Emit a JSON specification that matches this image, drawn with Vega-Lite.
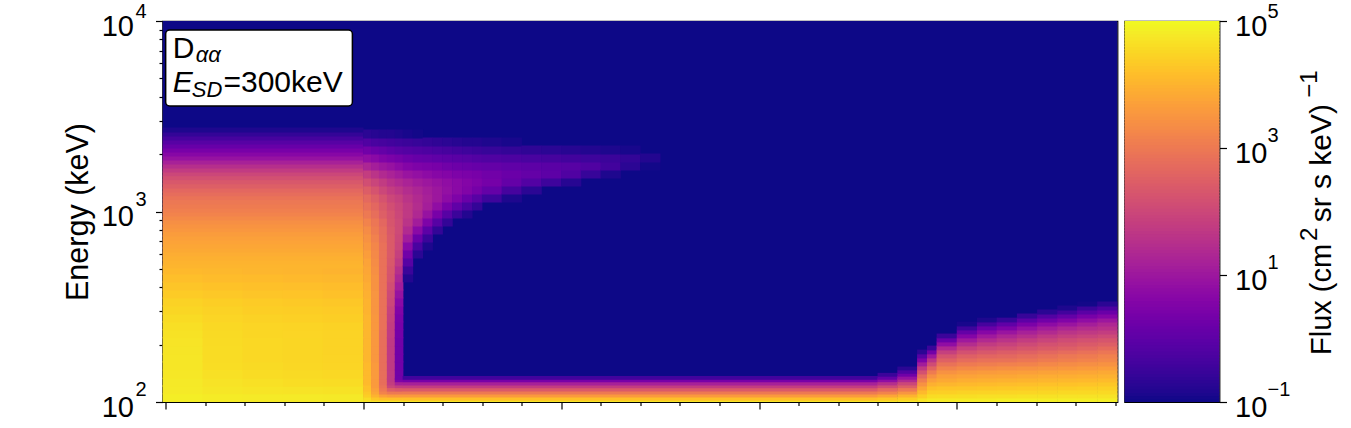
{"$schema":"https://vega.github.io/schema/vega-lite/v6.json","background":"white","padding":{"left":62.5,"top":1,"right":5,"bottom":5},"spacing":5,
"config":{"font":"Liberation Sans","view":{"stroke":"black","strokeWidth":1.2}},
"hconcat":[
{"width":955,"height":381,
"encoding":{
"x":{"field":"t","type":"quantitative","scale":{"domain":[-0.08,24.06],"nice":false,"zero":false},"axis":{"title":null,"labels":false,"grid":false,"domain":false,"values":[0,1,2,3,4,5,6,7,8,9,10,11,12,13,14,15,16,17,18,19,20,21,22,23,24],"tickColor":"black","tickWidth":1.2,"tickSize":{"condition":{"test":"datum.value%5===0","value":7},"value":3.5}}},
"y":{"field":"e","type":"quantitative","scale":{"type":"log","domain":[100,10000],"nice":false},"axis":{"title":"Energy (keV)","titleFontSize":30.5,"titleFontWeight":"normal","titleColor":"black","titlePadding":8,"grid":false,"domain":false,"values":[100,200,300,400,500,600,700,800,900,1000,2000,3000,4000,5000,6000,7000,8000,9000,10000],"labelExpr":"datum.value===100||datum.value===1000||datum.value===10000?'10':''","labelFontSize":29,"labelColor":"black","labelPadding":22,"labelOffset":5,"labelOverlap":false,"labelBound":false,"labelFlush":false,"tickColor":"black","tickWidth":1.2,"tickSize":{"condition":{"test":"datum.value===100||datum.value===1000||datum.value===10000","value":7},"value":3.5}}},
"color":{"field":"f","type":"quantitative","scale":{"scheme":"plasma","domain":[-1,5]},"legend":null}},
"layer":[
{"data":{"values":[{"t":-0.08,"t2":24.06,"e":100,"e2":10000,"f":-1}]},"mark":{"type":"rect","clip":true},"encoding":{"x2":{"field":"t2"},"y2":{"field":"e2"}}},
{"data":{"values":[
{"t":0.43,"e":105,"f":4.85},{"t":0.43,"e":116,"f":4.8},{"t":0.43,"e":127,"f":4.78},{"t":0.43,"e":140,"f":4.76},{"t":0.43,"e":155,"f":4.75},{"t":0.43,"e":170,"f":4.74},{"t":0.43,"e":187,"f":4.73},{"t":0.43,"e":207,"f":4.72},{"t":0.43,"e":228,"f":4.68},{"t":0.43,"e":251,"f":4.64},{"t":0.43,"e":276,"f":4.58},{"t":0.43,"e":304,"f":4.52},{"t":0.43,"e":335,"f":4.45},{"t":0.43,"e":369,"f":4.35},{"t":0.43,"e":406,"f":4.27},{"t":0.43,"e":448,"f":4.18},{"t":0.43,"e":493,"f":4.1},
{"t":1.45,"e":105,"f":4.82},{"t":1.45,"e":116,"f":4.75},{"t":1.45,"e":127,"f":4.7},{"t":1.45,"e":140,"f":4.65},{"t":1.45,"e":155,"f":4.62},{"t":1.45,"e":170,"f":4.6},{"t":1.45,"e":187,"f":4.6},{"t":1.45,"e":207,"f":4.59},{"t":1.45,"e":228,"f":4.57},{"t":1.45,"e":251,"f":4.55},{"t":1.45,"e":276,"f":4.5},{"t":1.45,"e":304,"f":4.45},{"t":1.45,"e":335,"f":4.4},{"t":1.45,"e":369,"f":4.31},{"t":1.45,"e":406,"f":4.23},{"t":1.45,"e":448,"f":4.14},{"t":1.45,"e":493,"f":4.07},
{"t":2.46,"e":105,"f":4.8},{"t":2.46,"e":116,"f":4.72},{"t":2.46,"e":127,"f":4.65},{"t":2.46,"e":140,"f":4.6},{"t":2.46,"e":155,"f":4.57},{"t":2.46,"e":170,"f":4.55},{"t":2.46,"e":187,"f":4.55},{"t":2.46,"e":207,"f":4.54},{"t":2.46,"e":228,"f":4.52},{"t":2.46,"e":251,"f":4.5},{"t":2.46,"e":276,"f":4.45},{"t":2.46,"e":304,"f":4.4},{"t":2.46,"e":335,"f":4.35},{"t":2.46,"e":369,"f":4.27},{"t":2.46,"e":406,"f":4.2},{"t":2.46,"e":448,"f":4.12},{"t":2.46,"e":493,"f":4.05},
{"t":3.48,"e":105,"f":4.8},{"t":3.48,"e":116,"f":4.7},{"t":3.48,"e":127,"f":4.62},{"t":3.48,"e":140,"f":4.57},{"t":3.48,"e":155,"f":4.53},{"t":3.48,"e":170,"f":4.51},{"t":3.48,"e":187,"f":4.52},{"t":3.48,"e":207,"f":4.51},{"t":3.48,"e":228,"f":4.5},{"t":3.48,"e":251,"f":4.48},{"t":3.48,"e":276,"f":4.43},{"t":3.48,"e":304,"f":4.38},{"t":3.48,"e":335,"f":4.33},{"t":3.48,"e":369,"f":4.25},{"t":3.48,"e":406,"f":4.18},{"t":3.48,"e":448,"f":4.1},{"t":3.48,"e":493,"f":4.03},
{"t":4.49,"e":105,"f":4.78},{"t":4.49,"e":116,"f":4.68},{"t":4.49,"e":127,"f":4.6},{"t":4.49,"e":140,"f":4.55},{"t":4.49,"e":155,"f":4.5},{"t":4.49,"e":170,"f":4.48},{"t":4.49,"e":187,"f":4.47},{"t":4.49,"e":207,"f":4.47},{"t":4.49,"e":228,"f":4.47},{"t":4.49,"e":251,"f":4.45},{"t":4.49,"e":276,"f":4.4},{"t":4.49,"e":304,"f":4.35},{"t":4.49,"e":335,"f":4.3},{"t":4.49,"e":369,"f":4.22},{"t":4.49,"e":406,"f":4.15},{"t":4.49,"e":448,"f":4.07},{"t":4.49,"e":493,"f":4.0}
]},"mark":{"type":"rect","width":41,"height":9,"clip":true}},
{"data":{"values":[
{"t":2.46,"e":517,"f":4.03},{"t":2.46,"e":543,"f":4.0},{"t":2.46,"e":570,"f":3.95},{"t":2.46,"e":598,"f":3.9},{"t":2.46,"e":628,"f":3.85},{"t":2.46,"e":659,"f":3.8},{"t":2.46,"e":692,"f":3.75},{"t":2.46,"e":726,"f":3.7},{"t":2.46,"e":762,"f":3.63},{"t":2.46,"e":800,"f":3.55},{"t":2.46,"e":839,"f":3.48},{"t":2.46,"e":881,"f":3.4},{"t":2.46,"e":924,"f":3.3},{"t":2.46,"e":970,"f":3.2},{"t":2.46,"e":1018,"f":3.12},{"t":2.46,"e":1069,"f":3.05},{"t":2.46,"e":1122,"f":2.98},{"t":2.46,"e":1178,"f":2.9},{"t":2.46,"e":1236,"f":2.78},{"t":2.46,"e":1297,"f":2.65},{"t":2.46,"e":1361,"f":2.5},{"t":2.46,"e":1429,"f":2.35},{"t":2.46,"e":1500,"f":2.18},{"t":2.46,"e":1574,"f":2.0},{"t":2.46,"e":1651,"f":1.75},{"t":2.46,"e":1733,"f":1.5},{"t":2.46,"e":1819,"f":1.2},{"t":2.46,"e":1909,"f":0.9},{"t":2.46,"e":2004,"f":0.65},{"t":2.46,"e":2103,"f":0.4},{"t":2.46,"e":2207,"f":0.15},{"t":2.46,"e":2316,"f":-0.1},{"t":2.46,"e":2431,"f":-0.35},{"t":2.46,"e":2551,"f":-0.6},{"t":2.46,"e":2678,"f":-0.85}
]},"mark":{"type":"rect","width":201.2,"height":4.8,"clip":true}},
{"data":{"values":[
{"t":5.1,"e":140,"f":4.1},{"t":5.1,"e":155,"f":4.1},{"t":5.1,"e":170,"f":4.05},{"t":5.1,"e":187,"f":4.05},{"t":5.1,"e":207,"f":4.05},{"t":5.1,"e":228,"f":4.05},{"t":5.1,"e":251,"f":4.05},{"t":5.1,"e":276,"f":4.05},{"t":5.1,"e":304,"f":4.0},{"t":5.1,"e":335,"f":4.0},{"t":5.1,"e":369,"f":3.95},{"t":5.1,"e":406,"f":3.9},{"t":5.1,"e":448,"f":3.85},{"t":5.1,"e":493,"f":3.8},{"t":5.1,"e":543,"f":3.75},{"t":5.1,"e":598,"f":3.65},{"t":5.1,"e":659,"f":3.55},{"t":5.1,"e":726,"f":3.45},{"t":5.1,"e":800,"f":3.35},{"t":5.1,"e":881,"f":3.2},{"t":5.1,"e":971,"f":3.0},{"t":5.1,"e":1069,"f":2.85},{"t":5.1,"e":1178,"f":2.7},{"t":5.1,"e":1297,"f":2.45},{"t":5.1,"e":1429,"f":2.15},{"t":5.1,"e":1574,"f":1.8},{"t":5.1,"e":1734,"f":1.3},{"t":5.1,"e":1910,"f":0.8},{"t":5.1,"e":2104,"f":0.3},{"t":5.1,"e":2317,"f":-0.2},{"t":5.1,"e":2553,"f":-0.7},
{"t":5.3,"e":140,"f":3.6},{"t":5.3,"e":155,"f":3.6},{"t":5.3,"e":170,"f":3.55},{"t":5.3,"e":187,"f":3.55},{"t":5.3,"e":207,"f":3.55},{"t":5.3,"e":228,"f":3.55},{"t":5.3,"e":251,"f":3.55},{"t":5.3,"e":276,"f":3.55},{"t":5.3,"e":304,"f":3.5},{"t":5.3,"e":335,"f":3.5},{"t":5.3,"e":369,"f":3.5},{"t":5.3,"e":406,"f":3.45},{"t":5.3,"e":448,"f":3.45},{"t":5.3,"e":493,"f":3.4},{"t":5.3,"e":543,"f":3.35},{"t":5.3,"e":598,"f":3.3},{"t":5.3,"e":659,"f":3.25},{"t":5.3,"e":726,"f":3.15},{"t":5.3,"e":800,"f":3.05},{"t":5.3,"e":881,"f":2.95},{"t":5.3,"e":971,"f":2.8},{"t":5.3,"e":1069,"f":2.65},{"t":5.3,"e":1178,"f":2.5},{"t":5.3,"e":1297,"f":2.25},{"t":5.3,"e":1429,"f":1.95},{"t":5.3,"e":1574,"f":1.6},{"t":5.3,"e":1734,"f":1.15},{"t":5.3,"e":1910,"f":0.7},{"t":5.3,"e":2104,"f":0.2},{"t":5.3,"e":2317,"f":-0.3},{"t":5.3,"e":2553,"f":-0.75},
{"t":5.5,"e":140,"f":2.8},{"t":5.5,"e":155,"f":2.8},{"t":5.5,"e":170,"f":2.8},{"t":5.5,"e":187,"f":2.8},{"t":5.5,"e":207,"f":2.8},{"t":5.5,"e":228,"f":2.8},{"t":5.5,"e":251,"f":2.85},{"t":5.5,"e":276,"f":2.85},{"t":5.5,"e":304,"f":2.85},{"t":5.5,"e":335,"f":2.85},{"t":5.5,"e":369,"f":2.85},{"t":5.5,"e":406,"f":2.85},{"t":5.5,"e":448,"f":2.85},{"t":5.5,"e":493,"f":2.85},{"t":5.5,"e":543,"f":2.85},{"t":5.5,"e":598,"f":2.85},{"t":5.5,"e":659,"f":2.85},{"t":5.5,"e":726,"f":2.8},{"t":5.5,"e":800,"f":2.75},{"t":5.5,"e":881,"f":2.65},{"t":5.5,"e":971,"f":2.5},{"t":5.5,"e":1069,"f":2.4},{"t":5.5,"e":1178,"f":2.25},{"t":5.5,"e":1297,"f":2.0},{"t":5.5,"e":1429,"f":1.75},{"t":5.5,"e":1574,"f":1.4},{"t":5.5,"e":1734,"f":1.0},{"t":5.5,"e":1910,"f":0.55},{"t":5.5,"e":2104,"f":0.1},{"t":5.5,"e":2317,"f":-0.35},{"t":5.5,"e":2553,"f":-0.8},
{"t":5.7,"e":140,"f":1.7},{"t":5.7,"e":155,"f":1.7},{"t":5.7,"e":170,"f":1.7},{"t":5.7,"e":187,"f":1.7},{"t":5.7,"e":207,"f":1.7},{"t":5.7,"e":228,"f":1.75},{"t":5.7,"e":251,"f":1.8},{"t":5.7,"e":276,"f":1.85},{"t":5.7,"e":304,"f":1.9},{"t":5.7,"e":335,"f":2.0},{"t":5.7,"e":369,"f":2.05},{"t":5.7,"e":406,"f":2.15},{"t":5.7,"e":448,"f":2.25},{"t":5.7,"e":493,"f":2.3},{"t":5.7,"e":543,"f":2.35},{"t":5.7,"e":598,"f":2.4},{"t":5.7,"e":659,"f":2.4},{"t":5.7,"e":726,"f":2.4},{"t":5.7,"e":800,"f":2.35},{"t":5.7,"e":881,"f":2.3},{"t":5.7,"e":971,"f":2.25},{"t":5.7,"e":1069,"f":2.15},{"t":5.7,"e":1178,"f":2.0},{"t":5.7,"e":1297,"f":1.8},{"t":5.7,"e":1429,"f":1.55},{"t":5.7,"e":1574,"f":1.25},{"t":5.7,"e":1734,"f":0.9},{"t":5.7,"e":1910,"f":0.45},{"t":5.7,"e":2104,"f":0},{"t":5.7,"e":2317,"f":-0.4},{"t":5.7,"e":2553,"f":-0.8},
{"t":5.9,"e":140,"f":0.3},{"t":5.9,"e":155,"f":0.3},{"t":5.9,"e":170,"f":0.3},{"t":5.9,"e":187,"f":0.3},{"t":5.9,"e":207,"f":0.3},{"t":5.9,"e":228,"f":0.35},{"t":5.9,"e":251,"f":0.4},{"t":5.9,"e":276,"f":0.45},{"t":5.9,"e":304,"f":0.55},{"t":5.9,"e":335,"f":0.7},{"t":5.9,"e":369,"f":0.9},{"t":5.9,"e":406,"f":1.1},{"t":5.9,"e":448,"f":1.3},{"t":5.9,"e":493,"f":1.5},{"t":5.9,"e":543,"f":1.7},{"t":5.9,"e":598,"f":1.85},{"t":5.9,"e":659,"f":1.95},{"t":5.9,"e":726,"f":2.0},{"t":5.9,"e":800,"f":2.05},{"t":5.9,"e":881,"f":2.05},{"t":5.9,"e":971,"f":2.0},{"t":5.9,"e":1069,"f":1.95},{"t":5.9,"e":1178,"f":1.85},{"t":5.9,"e":1297,"f":1.65},{"t":5.9,"e":1429,"f":1.4},{"t":5.9,"e":1574,"f":1.1},{"t":5.9,"e":1734,"f":0.75},{"t":5.9,"e":1910,"f":0.35},{"t":5.9,"e":2104,"f":-0.1},{"t":5.9,"e":2317,"f":-0.45},{"t":5.9,"e":2553,"f":-0.85}
]},"mark":{"type":"rect","width":8.6,"height":9,"clip":true}},
{"data":{"values":[
{"t":5.1,"e":100.6,"f":4.75},{"t":5.1,"e":104,"f":4.6},{"t":5.1,"e":108,"f":4.4},{"t":5.1,"e":112,"f":4.3},{"t":5.1,"e":116,"f":4.2},{"t":5.1,"e":121,"f":4.2},{"t":5.1,"e":125,"f":4.1},{"t":5.1,"e":130,"f":4.1},{"t":5.1,"e":134,"f":4.1},
{"t":5.3,"e":100.6,"f":4.7},{"t":5.3,"e":104,"f":4.3},{"t":5.3,"e":108,"f":4.0},{"t":5.3,"e":112,"f":3.8},{"t":5.3,"e":116,"f":3.7},{"t":5.3,"e":121,"f":3.6},{"t":5.3,"e":125,"f":3.6},{"t":5.3,"e":130,"f":3.6},{"t":5.3,"e":134,"f":3.6},
{"t":5.5,"e":100.6,"f":4.7},{"t":5.5,"e":104,"f":4.2},{"t":5.5,"e":108,"f":3.7},{"t":5.5,"e":112,"f":3.2},{"t":5.5,"e":116,"f":3.0},{"t":5.5,"e":121,"f":2.9},{"t":5.5,"e":125,"f":2.8},{"t":5.5,"e":130,"f":2.8},{"t":5.5,"e":134,"f":2.8},
{"t":5.7,"e":100.6,"f":4.7},{"t":5.7,"e":104,"f":4.2},{"t":5.7,"e":108,"f":3.6},{"t":5.7,"e":112,"f":3.0},{"t":5.7,"e":116,"f":2.5},{"t":5.7,"e":121,"f":2.0},{"t":5.7,"e":125,"f":1.8},{"t":5.7,"e":130,"f":1.7},{"t":5.7,"e":134,"f":1.7},
{"t":5.9,"e":100.6,"f":4.7},{"t":5.9,"e":104,"f":4.2},{"t":5.9,"e":108,"f":3.6},{"t":5.9,"e":112,"f":3.0},{"t":5.9,"e":116,"f":2.4},{"t":5.9,"e":121,"f":1.8},{"t":5.9,"e":125,"f":1.2},{"t":5.9,"e":130,"f":0.5},{"t":5.9,"e":134,"f":0.3}
]},"mark":{"type":"rect","width":8.6,"height":3.8,"clip":true}},
{"data":{"values":[
{"t":12,"e":100.6,"f":4.7},{"t":12,"e":104,"f":4.2},{"t":12,"e":108,"f":3.6},{"t":12,"e":112,"f":3.0},{"t":12,"e":116,"f":2.4},{"t":12,"e":121,"f":1.8},{"t":12,"e":125,"f":1.2},{"t":12,"e":130,"f":0.4},{"t":12,"e":134,"f":-0.4}
]},"mark":{"type":"rect","width":475.5,"height":3.8,"clip":true}},
{"data":{"values":[
{"t":18.25,"e":100.6,"f":4.7},{"t":18.25,"e":104,"f":4.3},{"t":18.25,"e":108,"f":3.8},{"t":18.25,"e":112,"f":3.2},{"t":18.25,"e":116,"f":2.7},{"t":18.25,"e":121,"f":2.1},{"t":18.25,"e":125,"f":1.5},{"t":18.25,"e":130,"f":0.8},{"t":18.25,"e":134,"f":0.1},{"t":18.25,"e":139,"f":-0.5},
{"t":18.75,"e":100.6,"f":4.75},{"t":18.75,"e":104,"f":4.4},{"t":18.75,"e":108,"f":4.0},{"t":18.75,"e":112,"f":3.5},{"t":18.75,"e":116,"f":3.0},{"t":18.75,"e":121,"f":2.5},{"t":18.75,"e":125,"f":2.0},{"t":18.75,"e":130,"f":1.4},{"t":18.75,"e":134,"f":0.9},{"t":18.75,"e":139,"f":0.3},{"t":18.75,"e":144,"f":-0.2},{"t":18.75,"e":150,"f":-0.7}
]},"mark":{"type":"rect","width":20.2,"height":3.8,"clip":true}},
{"data":{"values":[
{"t":6.125,"e":448,"f":-0.8},{"t":6.125,"e":493,"f":-0.5},{"t":6.125,"e":543,"f":-0.1},{"t":6.125,"e":598,"f":0.3},{"t":6.125,"e":659,"f":0.7},{"t":6.125,"e":726,"f":1.1},{"t":6.125,"e":800,"f":1.4},{"t":6.125,"e":881,"f":1.6},{"t":6.125,"e":971,"f":1.7},{"t":6.125,"e":1069,"f":1.7},{"t":6.125,"e":1178,"f":1.6},{"t":6.125,"e":1297,"f":1.45},{"t":6.125,"e":1429,"f":1.25},{"t":6.125,"e":1574,"f":0.95},{"t":6.125,"e":1734,"f":0.6},{"t":6.125,"e":1910,"f":0.25},{"t":6.125,"e":2104,"f":-0.15},{"t":6.125,"e":2317,"f":-0.5},{"t":6.125,"e":2553,"f":-0.9},
{"t":6.375,"e":598,"f":-0.7},{"t":6.375,"e":659,"f":-0.3},{"t":6.375,"e":726,"f":0.2},{"t":6.375,"e":800,"f":0.7},{"t":6.375,"e":881,"f":1.1},{"t":6.375,"e":971,"f":1.35},{"t":6.375,"e":1069,"f":1.45},{"t":6.375,"e":1178,"f":1.4},{"t":6.375,"e":1297,"f":1.3},{"t":6.375,"e":1429,"f":1.1},{"t":6.375,"e":1574,"f":0.85},{"t":6.375,"e":1734,"f":0.5},{"t":6.375,"e":1910,"f":0.15},{"t":6.375,"e":2104,"f":-0.2},{"t":6.375,"e":2317,"f":-0.55},{"t":6.375,"e":2553,"f":-0.95},
{"t":6.625,"e":659,"f":-0.85},{"t":6.625,"e":726,"f":-0.5},{"t":6.625,"e":800,"f":0},{"t":6.625,"e":881,"f":0.5},{"t":6.625,"e":971,"f":0.9},{"t":6.625,"e":1069,"f":1.15},{"t":6.625,"e":1178,"f":1.2},{"t":6.625,"e":1297,"f":1.15},{"t":6.625,"e":1429,"f":1.0},{"t":6.625,"e":1574,"f":0.75},{"t":6.625,"e":1734,"f":0.45},{"t":6.625,"e":1910,"f":0.1},{"t":6.625,"e":2104,"f":-0.25},{"t":6.625,"e":2317,"f":-0.6},
{"t":6.875,"e":800,"f":-0.6},{"t":6.875,"e":881,"f":-0.1},{"t":6.875,"e":971,"f":0.4},{"t":6.875,"e":1069,"f":0.8},{"t":6.875,"e":1178,"f":1.0},{"t":6.875,"e":1297,"f":1.0},{"t":6.875,"e":1429,"f":0.9},{"t":6.875,"e":1574,"f":0.65},{"t":6.875,"e":1734,"f":0.4},{"t":6.875,"e":1910,"f":0.05},{"t":6.875,"e":2104,"f":-0.3},{"t":6.875,"e":2317,"f":-0.65},
{"t":7.125,"e":881,"f":-0.6},{"t":7.125,"e":971,"f":-0.1},{"t":7.125,"e":1069,"f":0.4},{"t":7.125,"e":1178,"f":0.75},{"t":7.125,"e":1297,"f":0.85},{"t":7.125,"e":1429,"f":0.8},{"t":7.125,"e":1574,"f":0.6},{"t":7.125,"e":1734,"f":0.3},{"t":7.125,"e":1910,"f":0},{"t":7.125,"e":2104,"f":-0.35},{"t":7.125,"e":2317,"f":-0.7},
{"t":7.375,"e":971,"f":-0.5},{"t":7.375,"e":1069,"f":0.05},{"t":7.375,"e":1178,"f":0.5},{"t":7.375,"e":1297,"f":0.7},{"t":7.375,"e":1429,"f":0.7},{"t":7.375,"e":1574,"f":0.5},{"t":7.375,"e":1734,"f":0.25},{"t":7.375,"e":1910,"f":-0.05},{"t":7.375,"e":2104,"f":-0.4},{"t":7.375,"e":2317,"f":-0.75},
{"t":7.625,"e":971,"f":-0.8},{"t":7.625,"e":1069,"f":-0.3},{"t":7.625,"e":1178,"f":0.2},{"t":7.625,"e":1297,"f":0.55},{"t":7.625,"e":1429,"f":0.6},{"t":7.625,"e":1574,"f":0.45},{"t":7.625,"e":1734,"f":0.2},{"t":7.625,"e":1910,"f":-0.1},{"t":7.625,"e":2104,"f":-0.45},{"t":7.625,"e":2317,"f":-0.8},
{"t":7.875,"e":1069,"f":-0.6},{"t":7.875,"e":1178,"f":-0.1},{"t":7.875,"e":1297,"f":0.35},{"t":7.875,"e":1429,"f":0.5},{"t":7.875,"e":1574,"f":0.4},{"t":7.875,"e":1734,"f":0.15},{"t":7.875,"e":1910,"f":-0.15},{"t":7.875,"e":2104,"f":-0.5},{"t":7.875,"e":2317,"f":-0.8}
]},"mark":{"type":"rect","width":10.4,"height":9,"clip":true}},
{"data":{"values":[
{"t":8.25,"e":1178,"f":-0.45},{"t":8.25,"e":1297,"f":0.1},{"t":8.25,"e":1429,"f":0.35},{"t":8.25,"e":1574,"f":0.3},{"t":8.25,"e":1734,"f":0.1},{"t":8.25,"e":1910,"f":-0.2},{"t":8.25,"e":2104,"f":-0.55},{"t":8.25,"e":2317,"f":-0.85},
{"t":8.75,"e":1178,"f":-0.85},{"t":8.75,"e":1297,"f":-0.35},{"t":8.75,"e":1429,"f":0.1},{"t":8.75,"e":1574,"f":0.2},{"t":8.75,"e":1734,"f":0.05},{"t":8.75,"e":1910,"f":-0.25},{"t":8.75,"e":2104,"f":-0.6},{"t":8.75,"e":2317,"f":-0.9},
{"t":9.25,"e":1297,"f":-0.7},{"t":9.25,"e":1429,"f":-0.15},{"t":9.25,"e":1574,"f":0.1},{"t":9.25,"e":1734,"f":0},{"t":9.25,"e":1910,"f":-0.3},{"t":9.25,"e":2104,"f":-0.65},
{"t":9.75,"e":1429,"f":-0.45},{"t":9.75,"e":1574,"f":0},{"t":9.75,"e":1734,"f":-0.05},{"t":9.75,"e":1910,"f":-0.35},{"t":9.75,"e":2104,"f":-0.7},
{"t":10.25,"e":1429,"f":-0.75},{"t":10.25,"e":1574,"f":-0.2},{"t":10.25,"e":1734,"f":-0.1},{"t":10.25,"e":1910,"f":-0.4},{"t":10.25,"e":2104,"f":-0.75},
{"t":10.75,"e":1574,"f":-0.55},{"t":10.75,"e":1734,"f":-0.2},{"t":10.75,"e":1910,"f":-0.45},{"t":10.75,"e":2104,"f":-0.8},
{"t":11.25,"e":1574,"f":-0.85},{"t":11.25,"e":1734,"f":-0.4},{"t":11.25,"e":1910,"f":-0.5},{"t":11.25,"e":2104,"f":-0.85},
{"t":11.75,"e":1734,"f":-0.7},{"t":11.75,"e":1910,"f":-0.6},{"t":11.75,"e":2104,"f":-0.9},
{"t":12.25,"e":1734,"f":-0.95},{"t":12.25,"e":1910,"f":-0.8}
]},"mark":{"type":"rect","width":20.3,"height":9,"clip":true}},
{"data":{"values":[
{"t":19.125,"e":102.4,"f":4.7},{"t":19.125,"e":107.5,"f":4.4},{"t":19.125,"e":112.8,"f":4.1},{"t":19.125,"e":118.4,"f":3.8},{"t":19.125,"e":124.3,"f":3.45},{"t":19.125,"e":130.4,"f":3.1},{"t":19.125,"e":136.9,"f":2.7},{"t":19.125,"e":143.7,"f":2.2},{"t":19.125,"e":150.8,"f":1.7},{"t":19.125,"e":158.3,"f":1.1},{"t":19.125,"e":166.2,"f":0.5},{"t":19.125,"e":174.4,"f":-0.1},{"t":19.125,"e":183.1,"f":-0.7},
{"t":19.375,"e":102.4,"f":4.8},{"t":19.375,"e":107.5,"f":4.6},{"t":19.375,"e":112.8,"f":4.4},{"t":19.375,"e":118.4,"f":4.2},{"t":19.375,"e":124.3,"f":3.95},{"t":19.375,"e":130.4,"f":3.7},{"t":19.375,"e":136.9,"f":3.4},{"t":19.375,"e":143.7,"f":3.05},{"t":19.375,"e":150.8,"f":2.6},{"t":19.375,"e":158.3,"f":2.1},{"t":19.375,"e":166.2,"f":1.6},{"t":19.375,"e":174.4,"f":1.0},{"t":19.375,"e":183.1,"f":0.3},{"t":19.375,"e":192.1,"f":-0.5}
]},"mark":{"type":"rect","width":10.4,"height":4.8,"clip":true}},
{"data":{"values":[
{"t":19.75,"e":102.4,"f":4.8},{"t":19.75,"e":107.5,"f":4.62},{"t":19.75,"e":112.8,"f":4.42},{"t":19.75,"e":118.4,"f":4.25},{"t":19.75,"e":124.3,"f":4.05},{"t":19.75,"e":130.4,"f":3.85},{"t":19.75,"e":136.9,"f":3.68},{"t":19.75,"e":143.7,"f":3.45},{"t":19.75,"e":150.8,"f":3.18},{"t":19.75,"e":158.3,"f":2.88},{"t":19.75,"e":166.2,"f":2.55},{"t":19.75,"e":174.4,"f":2.25},{"t":19.75,"e":183.1,"f":1.85},{"t":19.75,"e":192.1,"f":1.35},{"t":19.75,"e":201.6,"f":0.8},{"t":19.75,"e":211.6,"f":0.2},{"t":19.75,"e":222.2,"f":-0.5},
{"t":20.26,"e":102.4,"f":4.82},{"t":20.26,"e":107.5,"f":4.63},{"t":20.26,"e":112.8,"f":4.45},{"t":20.26,"e":118.4,"f":4.27},{"t":20.26,"e":124.3,"f":4.1},{"t":20.26,"e":130.4,"f":3.92},{"t":20.26,"e":136.9,"f":3.75},{"t":20.26,"e":143.7,"f":3.57},{"t":20.26,"e":150.8,"f":3.3},{"t":20.26,"e":158.3,"f":3.02},{"t":20.26,"e":166.2,"f":2.75},{"t":20.26,"e":174.4,"f":2.52},{"t":20.26,"e":183.1,"f":2.2},{"t":20.26,"e":192.1,"f":1.85},{"t":20.26,"e":201.6,"f":1.45},{"t":20.26,"e":211.6,"f":1.05},{"t":20.26,"e":222.2,"f":0.6},{"t":20.26,"e":233.1,"f":0.1},{"t":20.26,"e":244.6,"f":-0.45},{"t":20.26,"e":256.7,"f":-0.9},
{"t":20.77,"e":102.4,"f":4.82},{"t":20.77,"e":107.5,"f":4.65},{"t":20.77,"e":112.8,"f":4.47},{"t":20.77,"e":118.4,"f":4.3},{"t":20.77,"e":124.3,"f":4.12},{"t":20.77,"e":130.4,"f":3.95},{"t":20.77,"e":136.9,"f":3.8},{"t":20.77,"e":143.7,"f":3.62},{"t":20.77,"e":150.8,"f":3.35},{"t":20.77,"e":158.3,"f":3.1},{"t":20.77,"e":166.2,"f":2.85},{"t":20.77,"e":174.4,"f":2.62},{"t":20.77,"e":183.1,"f":2.35},{"t":20.77,"e":192.1,"f":2.05},{"t":20.77,"e":201.6,"f":1.75},{"t":20.77,"e":211.6,"f":1.4},{"t":20.77,"e":222.2,"f":1.05},{"t":20.77,"e":233.1,"f":0.65},{"t":20.77,"e":244.6,"f":0.2},{"t":20.77,"e":256.7,"f":-0.35},{"t":20.77,"e":269.4,"f":-0.85},
{"t":21.27,"e":102.4,"f":4.85},{"t":21.27,"e":107.5,"f":4.66},{"t":21.27,"e":112.8,"f":4.48},{"t":21.27,"e":118.4,"f":4.32},{"t":21.27,"e":124.3,"f":4.15},{"t":21.27,"e":130.4,"f":3.98},{"t":21.27,"e":136.9,"f":3.82},{"t":21.27,"e":143.7,"f":3.65},{"t":21.27,"e":150.8,"f":3.4},{"t":21.27,"e":158.3,"f":3.15},{"t":21.27,"e":166.2,"f":2.88},{"t":21.27,"e":174.4,"f":2.68},{"t":21.27,"e":183.1,"f":2.45},{"t":21.27,"e":192.1,"f":2.15},{"t":21.27,"e":201.6,"f":1.9},{"t":21.27,"e":211.6,"f":1.6},{"t":21.27,"e":222.2,"f":1.3},{"t":21.27,"e":233.1,"f":0.95},{"t":21.27,"e":244.6,"f":0.5},{"t":21.27,"e":256.7,"f":0.05},{"t":21.27,"e":269.4,"f":-0.55},
{"t":21.78,"e":102.4,"f":4.85},{"t":21.78,"e":107.5,"f":4.68},{"t":21.78,"e":112.8,"f":4.5},{"t":21.78,"e":118.4,"f":4.34},{"t":21.78,"e":124.3,"f":4.18},{"t":21.78,"e":130.4,"f":4.02},{"t":21.78,"e":136.9,"f":3.86},{"t":21.78,"e":143.7,"f":3.68},{"t":21.78,"e":150.8,"f":3.45},{"t":21.78,"e":158.3,"f":3.2},{"t":21.78,"e":166.2,"f":2.95},{"t":21.78,"e":174.4,"f":2.78},{"t":21.78,"e":183.1,"f":2.55},{"t":21.78,"e":192.1,"f":2.3},{"t":21.78,"e":201.6,"f":2.05},{"t":21.78,"e":211.6,"f":1.8},{"t":21.78,"e":222.2,"f":1.5},{"t":21.78,"e":233.1,"f":1.2},{"t":21.78,"e":244.6,"f":0.85},{"t":21.78,"e":256.7,"f":0.45},{"t":21.78,"e":269.4,"f":0},{"t":21.78,"e":282.8,"f":-0.55},
{"t":22.29,"e":102.4,"f":4.85},{"t":22.29,"e":107.5,"f":4.68},{"t":22.29,"e":112.8,"f":4.52},{"t":22.29,"e":118.4,"f":4.37},{"t":22.29,"e":124.3,"f":4.21},{"t":22.29,"e":130.4,"f":4.05},{"t":22.29,"e":136.9,"f":3.9},{"t":22.29,"e":143.7,"f":3.73},{"t":22.29,"e":150.8,"f":3.5},{"t":22.29,"e":158.3,"f":3.28},{"t":22.29,"e":166.2,"f":3.05},{"t":22.29,"e":174.4,"f":2.88},{"t":22.29,"e":183.1,"f":2.65},{"t":22.29,"e":192.1,"f":2.4},{"t":22.29,"e":201.6,"f":2.2},{"t":22.29,"e":211.6,"f":1.95},{"t":22.29,"e":222.2,"f":1.7},{"t":22.29,"e":233.1,"f":1.4},{"t":22.29,"e":244.6,"f":1.1},{"t":22.29,"e":256.7,"f":0.75},{"t":22.29,"e":269.4,"f":0.3},{"t":22.29,"e":282.8,"f":-0.15},{"t":22.29,"e":296.7,"f":-0.7},
{"t":22.8,"e":102.4,"f":4.85},{"t":22.8,"e":107.5,"f":4.7},{"t":22.8,"e":112.8,"f":4.54},{"t":22.8,"e":118.4,"f":4.39},{"t":22.8,"e":124.3,"f":4.23},{"t":22.8,"e":130.4,"f":4.07},{"t":22.8,"e":136.9,"f":3.92},{"t":22.8,"e":143.7,"f":3.77},{"t":22.8,"e":150.8,"f":3.55},{"t":22.8,"e":158.3,"f":3.35},{"t":22.8,"e":166.2,"f":3.13},{"t":22.8,"e":174.4,"f":2.98},{"t":22.8,"e":183.1,"f":2.75},{"t":22.8,"e":192.1,"f":2.5},{"t":22.8,"e":201.6,"f":2.3},{"t":22.8,"e":211.6,"f":2.1},{"t":22.8,"e":222.2,"f":1.85},{"t":22.8,"e":233.1,"f":1.6},{"t":22.8,"e":244.6,"f":1.3},{"t":22.8,"e":256.7,"f":0.95},{"t":22.8,"e":269.4,"f":0.55},{"t":22.8,"e":282.8,"f":0.1},{"t":22.8,"e":296.7,"f":-0.4},{"t":22.8,"e":311.4,"f":-0.85},
{"t":23.3,"e":102.4,"f":4.85},{"t":23.3,"e":107.5,"f":4.7},{"t":23.3,"e":112.8,"f":4.55},{"t":23.3,"e":118.4,"f":4.41},{"t":23.3,"e":124.3,"f":4.25},{"t":23.3,"e":130.4,"f":4.1},{"t":23.3,"e":136.9,"f":3.95},{"t":23.3,"e":143.7,"f":3.8},{"t":23.3,"e":150.8,"f":3.6},{"t":23.3,"e":158.3,"f":3.4},{"t":23.3,"e":166.2,"f":3.2},{"t":23.3,"e":174.4,"f":3.05},{"t":23.3,"e":183.1,"f":2.85},{"t":23.3,"e":192.1,"f":2.6},{"t":23.3,"e":201.6,"f":2.4},{"t":23.3,"e":211.6,"f":2.2},{"t":23.3,"e":222.2,"f":1.95},{"t":23.3,"e":233.1,"f":1.7},{"t":23.3,"e":244.6,"f":1.45},{"t":23.3,"e":256.7,"f":1.15},{"t":23.3,"e":269.4,"f":0.8},{"t":23.3,"e":282.8,"f":0.4},{"t":23.3,"e":296.7,"f":-0.05},{"t":23.3,"e":311.4,"f":-0.5},{"t":23.3,"e":326.9,"f":-0.95},
{"t":23.81,"e":102.4,"f":4.85},{"t":23.81,"e":107.5,"f":4.7},{"t":23.81,"e":112.8,"f":4.56},{"t":23.81,"e":118.4,"f":4.43},{"t":23.81,"e":124.3,"f":4.28},{"t":23.81,"e":130.4,"f":4.13},{"t":23.81,"e":136.9,"f":3.98},{"t":23.81,"e":143.7,"f":3.85},{"t":23.81,"e":150.8,"f":3.65},{"t":23.81,"e":158.3,"f":3.45},{"t":23.81,"e":166.2,"f":3.27},{"t":23.81,"e":174.4,"f":3.15},{"t":23.81,"e":183.1,"f":2.95},{"t":23.81,"e":192.1,"f":2.73},{"t":23.81,"e":201.6,"f":2.5},{"t":23.81,"e":211.6,"f":2.3},{"t":23.81,"e":222.2,"f":2.05},{"t":23.81,"e":233.1,"f":1.8},{"t":23.81,"e":244.6,"f":1.55},{"t":23.81,"e":256.7,"f":1.33},{"t":23.81,"e":269.4,"f":1.0},{"t":23.81,"e":282.8,"f":0.6},{"t":23.81,"e":296.7,"f":0.2},{"t":23.81,"e":311.4,"f":-0.25},{"t":23.81,"e":326.9,"f":-0.7}
]},"mark":{"type":"rect","width":20.8,"height":4.8,"clip":true}},
{"data":{"values":[{"t":0,"t2":4.72,"e":3580,"e2":8970}]},"mark":{"type":"rect","fill":"white","stroke":"black","strokeWidth":1.5,"cornerRadius":4},"encoding":{"x2":{"field":"t2"},"y2":{"field":"e2"},"color":{"value":"white"}}},
{"data":{"values":[{"t":0.18,"e":6400,"s":"D"},{"t":1.46,"e":4236,"s":"=300keV"}]},"mark":{"type":"text","align":"left","baseline":"alphabetic","fontSize":30},"encoding":{"text":{"field":"s"},"color":{"value":"black"}}},
{"data":{"values":[{"t":0.18,"e":4236,"s":"E"}]},"mark":{"type":"text","align":"left","baseline":"alphabetic","fontSize":30,"fontStyle":"italic"},"encoding":{"text":{"field":"s"},"color":{"value":"black"}}},
{"data":{"values":[{"t":0.76,"e":6100,"s":"αα"},{"t":0.66,"e":3990,"s":"SD"}]},"mark":{"type":"text","align":"left","baseline":"alphabetic","fontSize":22,"fontStyle":"italic"},"encoding":{"text":{"field":"s"},"color":{"value":"black"}}},
{"data":{"values":[{"t":-0.76,"e":100,"s":"2"},{"t":-0.76,"e":1000,"s":"3"},{"t":-0.76,"e":9644,"s":"4"}]},"mark":{"type":"text","align":"left","baseline":"alphabetic","fontSize":20,"dy":-6},"encoding":{"text":{"field":"s"},"color":{"value":"black"}}}
]},
{"width":95,"height":381,
"encoding":{
"x":{"field":"x","type":"quantitative","scale":{"domain":[0,1],"nice":false,"zero":false},"axis":null},
"y":{"field":"f","type":"quantitative","scale":{"domain":[-1,5],"nice":false,"zero":false},"axis":{"orient":"right","title":null,"grid":false,"domain":false,"values":[-1,1,3,5],"labelExpr":"'10'","labelFontSize":29,"labelColor":"black","labelPadding":8,"labelOffset":5,"labelOverlap":false,"labelBound":false,"labelFlush":false,"tickColor":"black","tickWidth":1.2,"tickSize":7}}},
"layer":[
{"data":{"values":[{"x":0.5,"f":-0.975},{"x":0.5,"f":-0.925},{"x":0.5,"f":-0.875},{"x":0.5,"f":-0.825},{"x":0.5,"f":-0.775},{"x":0.5,"f":-0.725},{"x":0.5,"f":-0.675},{"x":0.5,"f":-0.625},{"x":0.5,"f":-0.575},{"x":0.5,"f":-0.525},{"x":0.5,"f":-0.475},{"x":0.5,"f":-0.425},{"x":0.5,"f":-0.375},{"x":0.5,"f":-0.325},{"x":0.5,"f":-0.275},{"x":0.5,"f":-0.225},{"x":0.5,"f":-0.175},{"x":0.5,"f":-0.125},{"x":0.5,"f":-0.075},{"x":0.5,"f":-0.025},{"x":0.5,"f":0.025},{"x":0.5,"f":0.075},{"x":0.5,"f":0.125},{"x":0.5,"f":0.175},{"x":0.5,"f":0.225},{"x":0.5,"f":0.275},{"x":0.5,"f":0.325},{"x":0.5,"f":0.375},{"x":0.5,"f":0.425},{"x":0.5,"f":0.475},{"x":0.5,"f":0.525},{"x":0.5,"f":0.575},{"x":0.5,"f":0.625},{"x":0.5,"f":0.675},{"x":0.5,"f":0.725},{"x":0.5,"f":0.775},{"x":0.5,"f":0.825},{"x":0.5,"f":0.875},{"x":0.5,"f":0.925},{"x":0.5,"f":0.975},{"x":0.5,"f":1.025},{"x":0.5,"f":1.075},{"x":0.5,"f":1.125},{"x":0.5,"f":1.175},{"x":0.5,"f":1.225},{"x":0.5,"f":1.275},{"x":0.5,"f":1.325},{"x":0.5,"f":1.375},{"x":0.5,"f":1.425},{"x":0.5,"f":1.475},{"x":0.5,"f":1.525},{"x":0.5,"f":1.575},{"x":0.5,"f":1.625},{"x":0.5,"f":1.675},{"x":0.5,"f":1.725},{"x":0.5,"f":1.775},{"x":0.5,"f":1.825},{"x":0.5,"f":1.875},{"x":0.5,"f":1.925},{"x":0.5,"f":1.975},{"x":0.5,"f":2.025},{"x":0.5,"f":2.075},{"x":0.5,"f":2.125},{"x":0.5,"f":2.175},{"x":0.5,"f":2.225},{"x":0.5,"f":2.275},{"x":0.5,"f":2.325},{"x":0.5,"f":2.375},{"x":0.5,"f":2.425},{"x":0.5,"f":2.475},{"x":0.5,"f":2.525},{"x":0.5,"f":2.575},{"x":0.5,"f":2.625},{"x":0.5,"f":2.675},{"x":0.5,"f":2.725},{"x":0.5,"f":2.775},{"x":0.5,"f":2.825},{"x":0.5,"f":2.875},{"x":0.5,"f":2.925},{"x":0.5,"f":2.975},{"x":0.5,"f":3.025},{"x":0.5,"f":3.075},{"x":0.5,"f":3.125},{"x":0.5,"f":3.175},{"x":0.5,"f":3.225},{"x":0.5,"f":3.275},{"x":0.5,"f":3.325},{"x":0.5,"f":3.375},{"x":0.5,"f":3.425},{"x":0.5,"f":3.475},{"x":0.5,"f":3.525},{"x":0.5,"f":3.575},{"x":0.5,"f":3.625},{"x":0.5,"f":3.675},{"x":0.5,"f":3.725},{"x":0.5,"f":3.775},{"x":0.5,"f":3.825},{"x":0.5,"f":3.875},{"x":0.5,"f":3.925},{"x":0.5,"f":3.975},{"x":0.5,"f":4.025},{"x":0.5,"f":4.075},{"x":0.5,"f":4.125},{"x":0.5,"f":4.175},{"x":0.5,"f":4.225},{"x":0.5,"f":4.275},{"x":0.5,"f":4.325},{"x":0.5,"f":4.375},{"x":0.5,"f":4.425},{"x":0.5,"f":4.475},{"x":0.5,"f":4.525},{"x":0.5,"f":4.575},{"x":0.5,"f":4.625},{"x":0.5,"f":4.675},{"x":0.5,"f":4.725},{"x":0.5,"f":4.775},{"x":0.5,"f":4.825},{"x":0.5,"f":4.875},{"x":0.5,"f":4.925},{"x":0.5,"f":4.975}]},
"mark":{"type":"rect","width":95.5,"height":4.2,"clip":true},"encoding":{"color":{"field":"f","type":"quantitative","scale":{"scheme":"plasma","domain":[-1,5]},"legend":null}}},
{"data":{"values":[{"x":1.505,"f":4.953,"s":"5"},{"x":1.505,"f":3,"s":"3"},{"x":1.505,"f":1,"s":"1"},{"x":1.505,"f":-1,"s":"−1"}]},"mark":{"type":"text","align":"left","baseline":"alphabetic","fontSize":20,"dy":-6,"color":"black"},"encoding":{"text":{"field":"s"}}},
{"data":{"values":[{"x":2.17,"f":-0.26,"s":"Flux (cm"}]},"mark":{"type":"text","align":"left","baseline":"alphabetic","fontSize":29,"angle":270,"color":"black"},"encoding":{"text":{"field":"s"}}},
{"data":{"values":[{"x":2.17,"f":1.83,"s":"sr s keV)"}]},"mark":{"type":"text","align":"left","baseline":"alphabetic","fontSize":30,"angle":270,"color":"black"},"encoding":{"text":{"field":"s"}}},
{"data":{"values":[{"x":2.03,"f":1.535,"s":"2"},{"x":2.03,"f":3.79,"s":"−1"}]},"mark":{"type":"text","align":"left","baseline":"alphabetic","fontSize":24,"angle":270,"color":"black"},"encoding":{"text":{"field":"s"}}}
]}
]}
